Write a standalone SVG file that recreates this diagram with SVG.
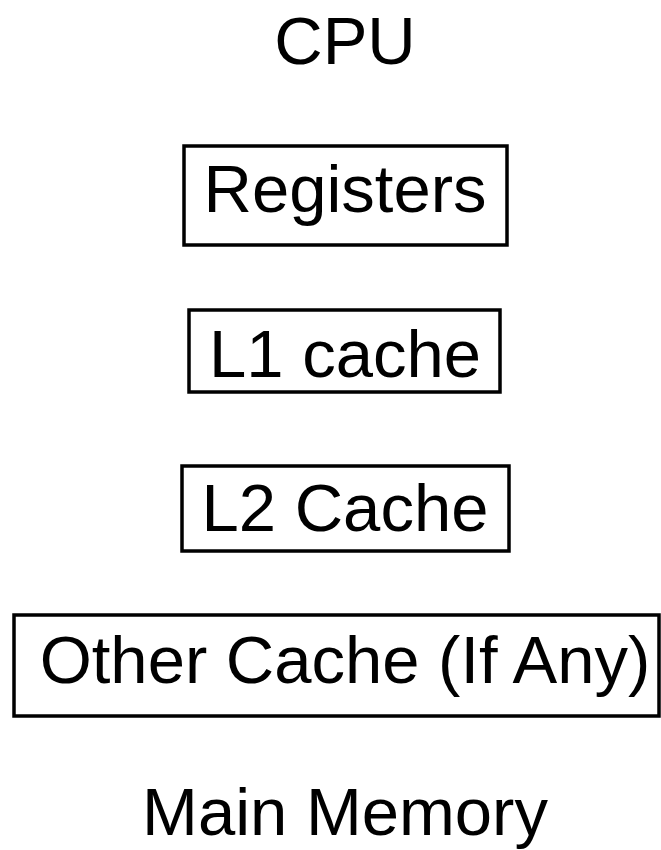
<svg xmlns="http://www.w3.org/2000/svg" width="661" height="850" viewBox="0 0 661 850">
<style>
text{font-family:"Liberation Sans",Arial,sans-serif;font-size:67px;fill:#000;text-anchor:middle}
rect{fill:#fff;stroke:#000;stroke-width:3.5}
</style>
<rect x="0" y="0" width="661" height="850" style="stroke:none"/>
<g id="cpu"><text x="345" y="64">CPU</text></g>
<g id="registers"><rect x="184" y="146" width="323" height="99"/><text x="345" y="212">Registers</text></g>
<g id="l1"><rect x="189" y="310" width="311" height="82"/><text x="345" y="377">L1 cache</text></g>
<g id="l2"><rect x="182" y="466" width="327" height="85"/><text x="345" y="531">L2 Cache</text></g>
<g id="other"><rect x="14" y="615" width="645" height="101"/><text x="345" y="683">Other Cache (If Any)</text></g>
<g id="main"><text x="345" y="835">Main Memory</text></g>
<g id="connectors"></g>
</svg>
